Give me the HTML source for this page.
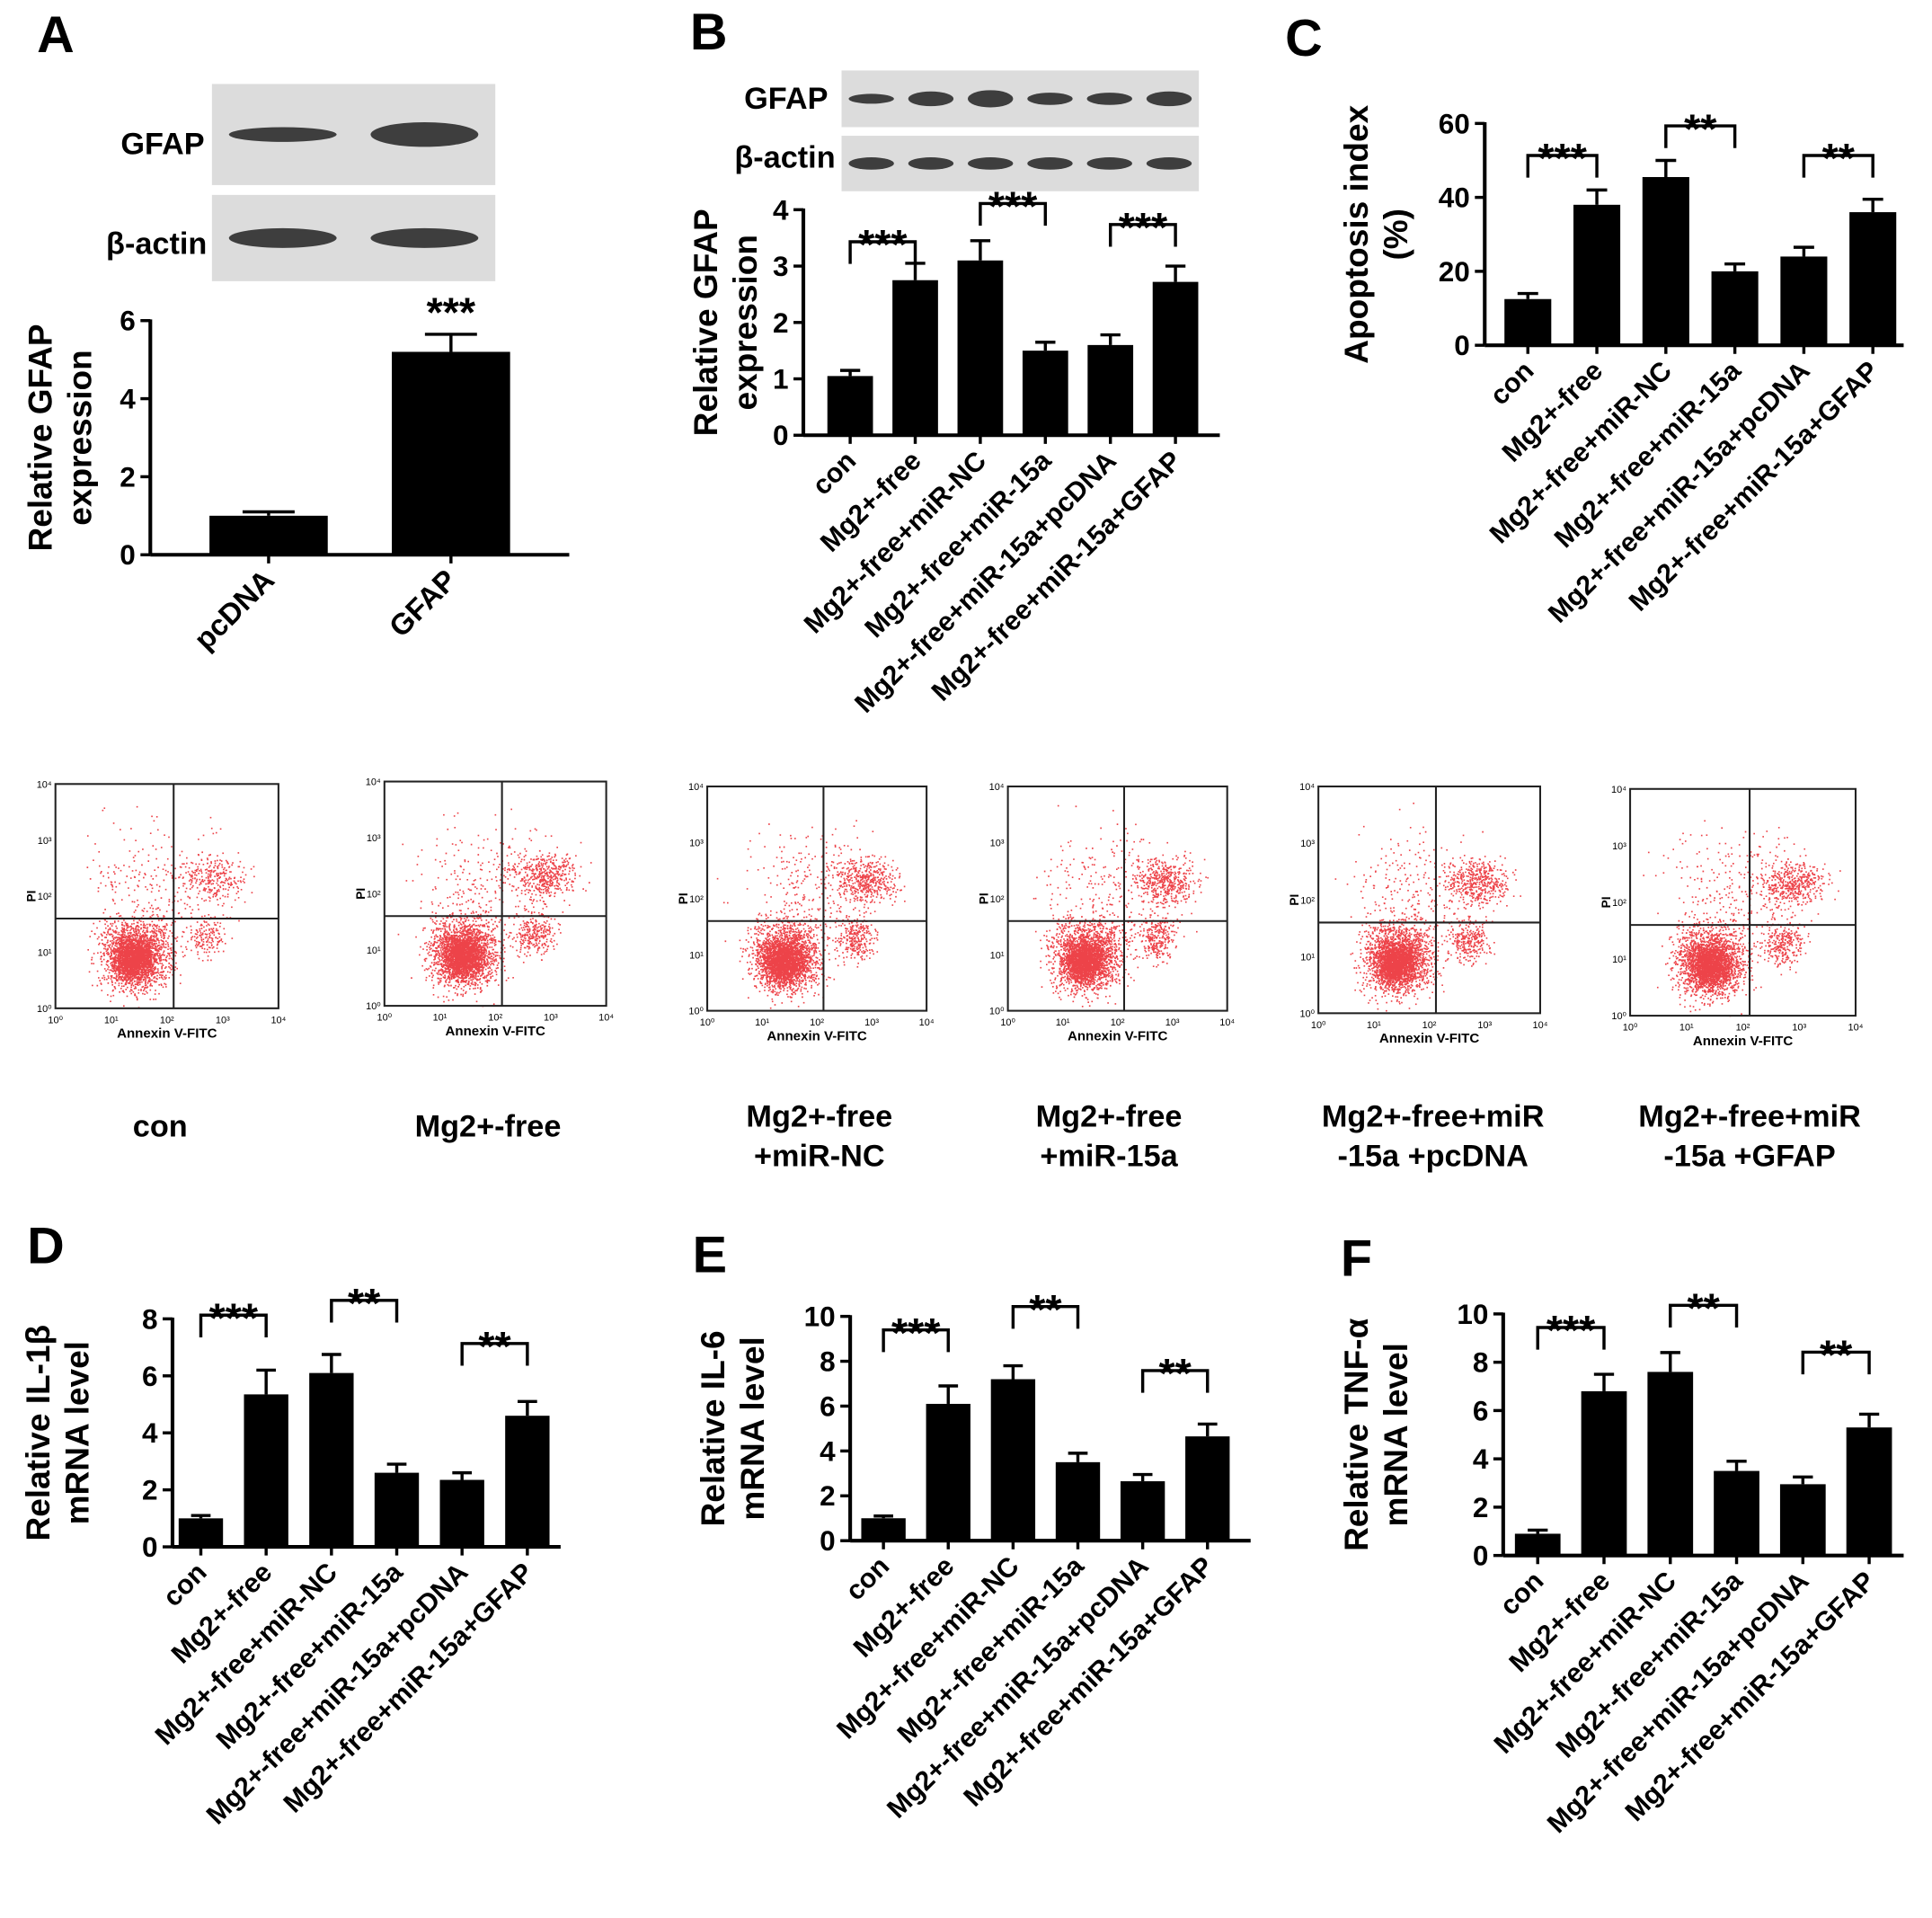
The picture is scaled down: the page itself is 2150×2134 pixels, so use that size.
<!DOCTYPE html>
<html><head><meta charset="utf-8"><style>
html,body{margin:0;padding:0;background:#fff;}
svg{display:block;font-family:"Liberation Sans",Arial,sans-serif;}
</style></head><body>
<svg id="fig" width="2150" height="2134" viewBox="0 0 1568 1556" xmlns="http://www.w3.org/2000/svg">
</svg>
<script>
// ---- data ----
const catsA = ["pcDNA","GFAP"];
const valsA = [1.0,5.2];
const errA = [0.1,0.45];
const cats6 = ["con","Mg2+-free","Mg2+-free+miR-NC","Mg2+-free+miR-15a","Mg2+-free+miR-15a+pcDNA","Mg2+-free+miR-15a+GFAP"];
const valsB = [1.05,2.75,3.1,1.5,1.6,2.72];
const errB = [0.1,0.3,0.35,0.15,0.18,0.28];
const valsC = [12.5,38,45.5,20,24,36];
const errC = [1.5,4,4.5,2,2.5,3.5];
const valsD = [1.0,5.35,6.1,2.6,2.35,4.6];
const errD = [0.1,0.85,0.65,0.3,0.25,0.5];
const valsE = [1.0,6.1,7.2,3.5,2.65,4.65];
const errE = [0.1,0.8,0.6,0.4,0.3,0.55];
const valsF = [0.9,6.8,7.6,3.5,2.95,5.3];
const errF = [0.15,0.7,0.8,0.4,0.3,0.55];
const ticksA=[0,2,4,6], ticksB=[0,1,2,3,4], ticksC=[0,20,40,60], ticksD=[0,2,4,6,8], ticksE=[0,2,4,6,8,10];

const NS="http://www.w3.org/2000/svg";
const svg=document.getElementById('fig');
function el(tag,attrs,parent,text){const e=document.createElementNS(NS,tag);for(const k in attrs)e.setAttribute(k,attrs[k]);if(text!==undefined)e.textContent=text;(parent||svg).appendChild(e);return e;}

function chart(o){
  const g=el('g',{});
  
  
  const ymax=o.ticks[o.ticks.length-1];
  const y=v=>o.y0-(v/ymax)*(o.y0-o.y1);
  const x=i=>o.x0+o.first+i*o.step;
  el('line',{x1:o.x0,y1:o.y1-1,x2:o.x0,y2:o.y0,stroke:'#000','stroke-width':3},g);
  el('line',{x1:o.x0,y1:o.y0,x2:o.xEnd,y2:o.y0,stroke:'#000','stroke-width':3},g);
  o.ticks.forEach(t=>{
    el('line',{x1:o.x0-8,y1:y(t),x2:o.x0,y2:y(t),stroke:'#000','stroke-width':2.5},g);
    const tl=el('text',{x:o.x0-12,y:y(t)+8,'text-anchor':'end','font-size':23,'font-weight':'bold'},g,t);
    
    
  });
  o.cats.forEach((c,i)=>{
    const cx=x(i),v=o.vals[i],e=o.errs[i];
    el('line',{x1:cx,y1:y(v+e),x2:cx,y2:y(v),stroke:'#000','stroke-width':2.5},g);
    el('line',{x1:cx-o.bw*0.22,y1:y(v+e),x2:cx+o.bw*0.22,y2:y(v+e),stroke:'#000','stroke-width':2.5},g);
    const r=el('rect',{x:cx-o.bw/2,y:y(v),width:o.bw,height:o.y0-y(v),fill:'#000'},g);
    
    
    el('line',{x1:cx,y1:o.y0,x2:cx,y2:o.y0+7,stroke:'#000','stroke-width':2.5},g);
    const lx=cx+6,ly=o.y0+22;
    const t=el('text',{x:lx,y:ly,'text-anchor':'end','font-size':o.lfs||22,'font-weight':'bold',transform:`rotate(-45 ${lx} ${ly})`},g,c);
    
    
  });
  const ty=(o.y0+o.y1)/2;
  o.title.forEach((s,k)=>{
    const tx=o.tx[k];
    const t=el('text',{x:tx,y:ty,'text-anchor':'middle','font-size':27,'font-weight':'bold',transform:`rotate(-90 ${tx} ${ty})`},g,s);
    
    
  });
  (o.brackets||[]).forEach(b=>{
    const xa=x(b[0]),xb=x(b[1]),by=b[2];
    el('path',{d:`M${xa} ${by+18}V${by}H${xb}V${by+18}`,fill:'none',stroke:'#000','stroke-width':2.5},g);
    const st=el('text',{x:(xa+xb)/2,y:by+14,'text-anchor':'middle','font-size':34,'font-weight':'bold'},g,b[3]);
    
    
  });
  if(o.star){const st=el('text',{x:x(o.star[0]),y:o.star[1],'text-anchor':'middle','font-size':34,'font-weight':'bold'},g,o.star[2]);
    }
}
function label(t,x,y){const e=el('text',{x:x,y:y,'font-size':42,'font-weight':'bold'},svg,t);
  
  }
function blot(x,y,w,h,n,widths,name){
  const g=el('g',{});
  
  
  el('rect',{x:x,y:y,width:w,height:h,fill:'#dcdcdc'},g);
  const step=w/n;
  widths.forEach((bh,i)=>{el('ellipse',{cx:x+step*(i+0.5),cy:y+h/2,rx:step*0.38,ry:bh,fill:'#222',opacity:0.85},g);});
}
function txt(s,x,y,fs,anchor,name){const e=el('text',{x:x,y:y,'font-size':fs,'font-weight':'bold','text-anchor':anchor||'start'},svg,s);
  }

// Panel A
label('A',30,42);
blot(172,68,230,82,2,[6,10],'gfap-blot-a');
blot(172,158,230,70,2,[8,8],'actin-blot-a');
txt('GFAP',166,125,25,'end','blot-label-gfap');
txt('β-actin',168,206,25,'end','blot-label-actin');
chart({name:'chart-a',cats:catsA,vals:valsA,errs:errA,ticks:ticksA,x0:122,y0:450,y1:260,xEnd:462,first:96,step:148,bw:96,title:['Relative GFAP','expression'],tx:[42,74],lfs:24,star:[1,265,'***']});

// Panel B
label('B',560,40);
blot(683,57,290,46,6,[4,6,7,5,5,6],'gfap-blot-b');
blot(683,110,290,45,6,[5,5,5,5,5,5],'actin-blot-b');
txt('GFAP',672,88,25,'end','blot-label-gfap');
txt('β-actin',678,136,25,'end','blot-label-actin');
chart({name:'chart-b',cats:cats6,vals:valsB,errs:errB,ticks:ticksB,x0:652,y0:353,y1:170,xEnd:990,first:38,step:52.8,bw:37,title:['Relative GFAP','expression'],tx:[582,614],brackets:[[0,1,196,'***'],[2,3,165,'***'],[4,5,182,'***']]});

// Panel C
label('C',1043,45);
chart({name:'chart-c',cats:cats6,vals:valsC,errs:errC,ticks:ticksC,x0:1205,y0:280,y1:100,xEnd:1545,first:35,step:56,bw:38,title:['Apoptosis index','(%)'],tx:[1110,1142],brackets:[[0,1,126,'***'],[2,3,102,'**'],[4,5,126,'**']]});

// Panel D,E,F
label('D',22,1025);
chart({name:'chart-d',cats:cats6,vals:valsD,errs:errD,ticks:ticksD,x0:140,y0:1255,y1:1070,xEnd:455,first:23,step:53,bw:36,title:['Relative IL-1β','mRNA level'],tx:[40,72],brackets:[[0,1,1067,'***'],[2,3,1055,'**'],[4,5,1090,'**']]});
label('E',562,1032);
chart({name:'chart-e',cats:cats6,vals:valsE,errs:errE,ticks:ticksE,x0:690,y0:1250,y1:1068,xEnd:1015,first:27,step:52.6,bw:36,title:['Relative IL-6','mRNA level'],tx:[588,620],brackets:[[0,1,1079,'***'],[2,3,1060,'**'],[4,5,1112,'**']]});
label('F',1088,1035);
chart({name:'chart-f',cats:cats6,vals:valsF,errs:errF,ticks:ticksE,x0:1220,y0:1262,y1:1066,xEnd:1545,first:28,step:53.8,bw:37,title:['Relative TNF-α','mRNA level'],tx:[1110,1142],brackets:[[0,1,1077,'***'],[2,3,1059,'**'],[4,5,1097,'**']]});

// Flow cytometry plots (decorative scatter, deterministic)
const flowBoxes=[[45,636,181,182],[312,634,180,182],[574,638,178,182],[818,638,178,182],[1070,638,180,184],[1323,640,183,184]];
const flowNames=[["con"],["Mg2+-free"],["Mg2+-free","+miR-NC"],["Mg2+-free","+miR-15a"],["Mg2+-free+miR","-15a +pcDNA"],["Mg2+-free+miR","-15a +GFAP"]];
let seed=12345;function rnd(){seed=(seed*1103515245+12345)%2147483648;return seed/2147483648;}
function gauss(){return (rnd()+rnd()+rnd()+rnd()-2)/0.58;}
flowBoxes.forEach((b,k)=>{
  const [x,y,w,h]=b;
  const g=el('g',{});
  
  
  let dots='';
  const add=(n,cx,cy,sx,sy)=>{for(let i=0;i<n;i++){const px=x+w*(cx+gauss()*sx),py=y+h*(cy+gauss()*sy);if(px>x&&px<x+w&&py>y&&py<y+h)dots+=`M${px.toFixed(1)} ${py.toFixed(1)}h1.2v1.2h-1.2z`;}};
  const late=k===0?250:450;
  add(1600,0.36,0.76,0.08,0.08);
  add(1400,0.35,0.78,0.045,0.045);
  add(late,0.72,0.42,0.07,0.05);
  add(late*0.6,0.68,0.68,0.045,0.05);
  add(250,0.45,0.45,0.15,0.14);
  el('path',{d:dots,fill:'#e8141b',opacity:0.8},g);
  el('rect',{x:x,y:y,width:w,height:h,fill:'none',stroke:'#222','stroke-width':1.5},g);
  el('line',{x1:x+w*0.53,y1:y,x2:x+w*0.53,y2:y+h,stroke:'#222','stroke-width':1.5},g);
  el('line',{x1:x,y1:y+h*0.6,x2:x+w,y2:y+h*0.6,stroke:'#222','stroke-width':1.5},g);
  for(let i=0;i<=4;i++){
    el('text',{x:x+w*i/4,y:y+h+12,'font-size':8,'text-anchor':'middle'},g,'10'+['⁰','¹','²','³','⁴'][i]);
    el('text',{x:x-3,y:y+h-h*i/4+3,'font-size':8,'text-anchor':'end'},g,'10'+['⁰','¹','²','³','⁴'][i]);
  }
  el('text',{x:x+w/2,y:y+h+24,'font-size':11,'font-weight':'bold','text-anchor':'middle'},g,'Annexin V-FITC');
  el('text',{x:x-16,y:y+h/2,'font-size':10,'font-weight':'bold','text-anchor':'middle',transform:`rotate(-90 ${x-16} ${y+h/2})`},g,'PI');
  flowNames[k].forEach((s,j)=>{
    const ty=flowNames[k].length===1?922:914+j*32;
    const t=el('text',{x:[130,396,665,900,1163,1420][k],y:ty,'font-size':25,'font-weight':'bold','text-anchor':'middle'},g,s);
    
    
  });
});
</script>
</body></html>
